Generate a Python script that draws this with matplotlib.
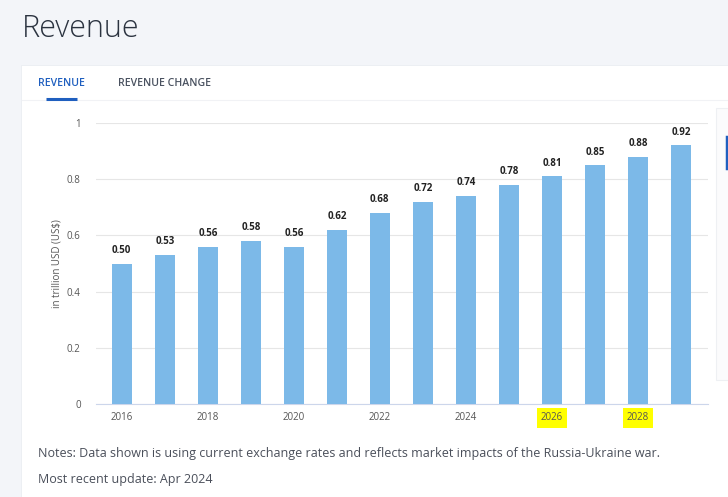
import matplotlib.pyplot as plt
from matplotlib.patches import Rectangle

years = list(range(2016, 2030))
revenue = [0.50, 0.53, 0.56, 0.58, 0.56, 0.62, 0.68, 0.72, 0.74, 0.78, 0.81, 0.85, 0.88, 0.92]
tick_years = [2016, 2018, 2020, 2022, 2024, 2026, 2028]
highlighted = [2026, 2028]
y_ticks = [0, 0.2, 0.4, 0.6, 0.8, 1]
y_tick_labels = ["0", "0.2", "0.4", "0.6", "0.8", "1"]

W, H = 728, 497
BAR = "#7cb9e8"
TEXT = "#4a4f5a"

plt.rcParams["font.family"] = ["Open Sans", "DejaVu Sans"]

fig = plt.figure(figsize=(W / 100, H / 100), dpi=100)
fig.patch.set_facecolor("#f3f5f9")


def fx(px):
    return px / W


def fy(py):
    return 1 - py / H


# white card with a soft edge
fig.patches.append(Rectangle((fx(21), 0), 1, fy(65), transform=fig.transFigure,
                             facecolor="#eceff3", edgecolor="none", zorder=0))
fig.patches.append(Rectangle((fx(22), 0), 1, fy(66), transform=fig.transFigure,
                             facecolor="white", edgecolor="none", zorder=0))

# title and tabs
fig.text(fx(22), fy(29), "Revenue", fontsize=22, color="#2b3340", va="center",
         fontweight="light")
fig.text(fx(38), fy(83), "REVENUE", fontsize=7.6, color="#1f5fbf", va="center",
         fontweight="semibold")
fig.text(fx(118), fy(83), "REVENUE CHANGE", fontsize=7.6, color="#4a5260", va="center",
         fontweight="semibold")
fig.lines.append(plt.Line2D([fx(22), 1], [fy(100), fy(100)], transform=fig.transFigure,
                            color="#f1f2f5", lw=0.8))
fig.lines.append(plt.Line2D([fx(46), fx(77)], [fy(99), fy(99)], transform=fig.transFigure,
                            color="#1f5fbf", lw=2.2, solid_capstyle="butt"))

# right-side panel edge
fig.patches.append(Rectangle((fx(716), fy(380)), 1, fy(108) - fy(380),
                             transform=fig.transFigure, facecolor="#fbfbfc",
                             edgecolor="#eef0f3", lw=0.8, zorder=1))
fig.lines.append(plt.Line2D([fx(727), fx(727)], [fy(137), fy(168)], transform=fig.transFigure,
                            color="#1f5fbf", lw=2.5))

ax = fig.add_axes([fx(96), fy(404), fx(708) - fx(96), fy(123) - fy(404)])
ax.set_facecolor("none")
ax.set_zorder(5)

x = list(range(len(years)))
ax.bar(x, revenue, width=0.46, color=BAR, zorder=3)
for xi, v in zip(x, revenue):
    ax.annotate(f"{v:.2f}", (xi, v), xytext=(0, 5.5), textcoords="offset points",
                ha="center", va="bottom", fontsize=7, fontweight="bold",
                color="#222222", zorder=4)

ax.set_xlim(-0.6, 13.63)
ax.set_ylim(0, 1)
ax.set_yticks(y_ticks)
ax.set_yticklabels(y_tick_labels)
ax.grid(axis="y", color="#e6e6e6", lw=0.8, zorder=0)
for s in ["top", "right", "left"]:
    ax.spines[s].set_visible(False)
ax.spines["bottom"].set_color("#ccd6eb")
ax.spines["bottom"].set_linewidth(0.8)
ax.tick_params(axis="y", length=0, labelsize=7, labelcolor="#555555", pad=11)
ax.tick_params(axis="x", length=0, labelsize=7, labelcolor="#555555", pad=6)

ax.set_xticks([years.index(t) for t in tick_years])
ax.set_xticklabels([str(t) for t in tick_years])
for lab in ax.get_xticklabels():
    if int(lab.get_text()) in highlighted:
        lab.set_bbox(dict(facecolor="#ffff00", edgecolor="none", pad=3))

ax.set_ylabel("in trillion USD (US$)", fontsize=7, color="#555555", labelpad=3)

# notes
fig.text(fx(38), fy(453), "Notes: Data shown is using current exchange rates and reflects "
         "market impacts of the Russia-Ukraine war.", fontsize=9.0, color=TEXT, va="center")
fig.text(fx(38), fy(480), "Most recent update: Apr 2024", fontsize=9.0, color=TEXT,
         va="center")

fig.savefig("out.png", dpi=100, facecolor=fig.get_facecolor())
